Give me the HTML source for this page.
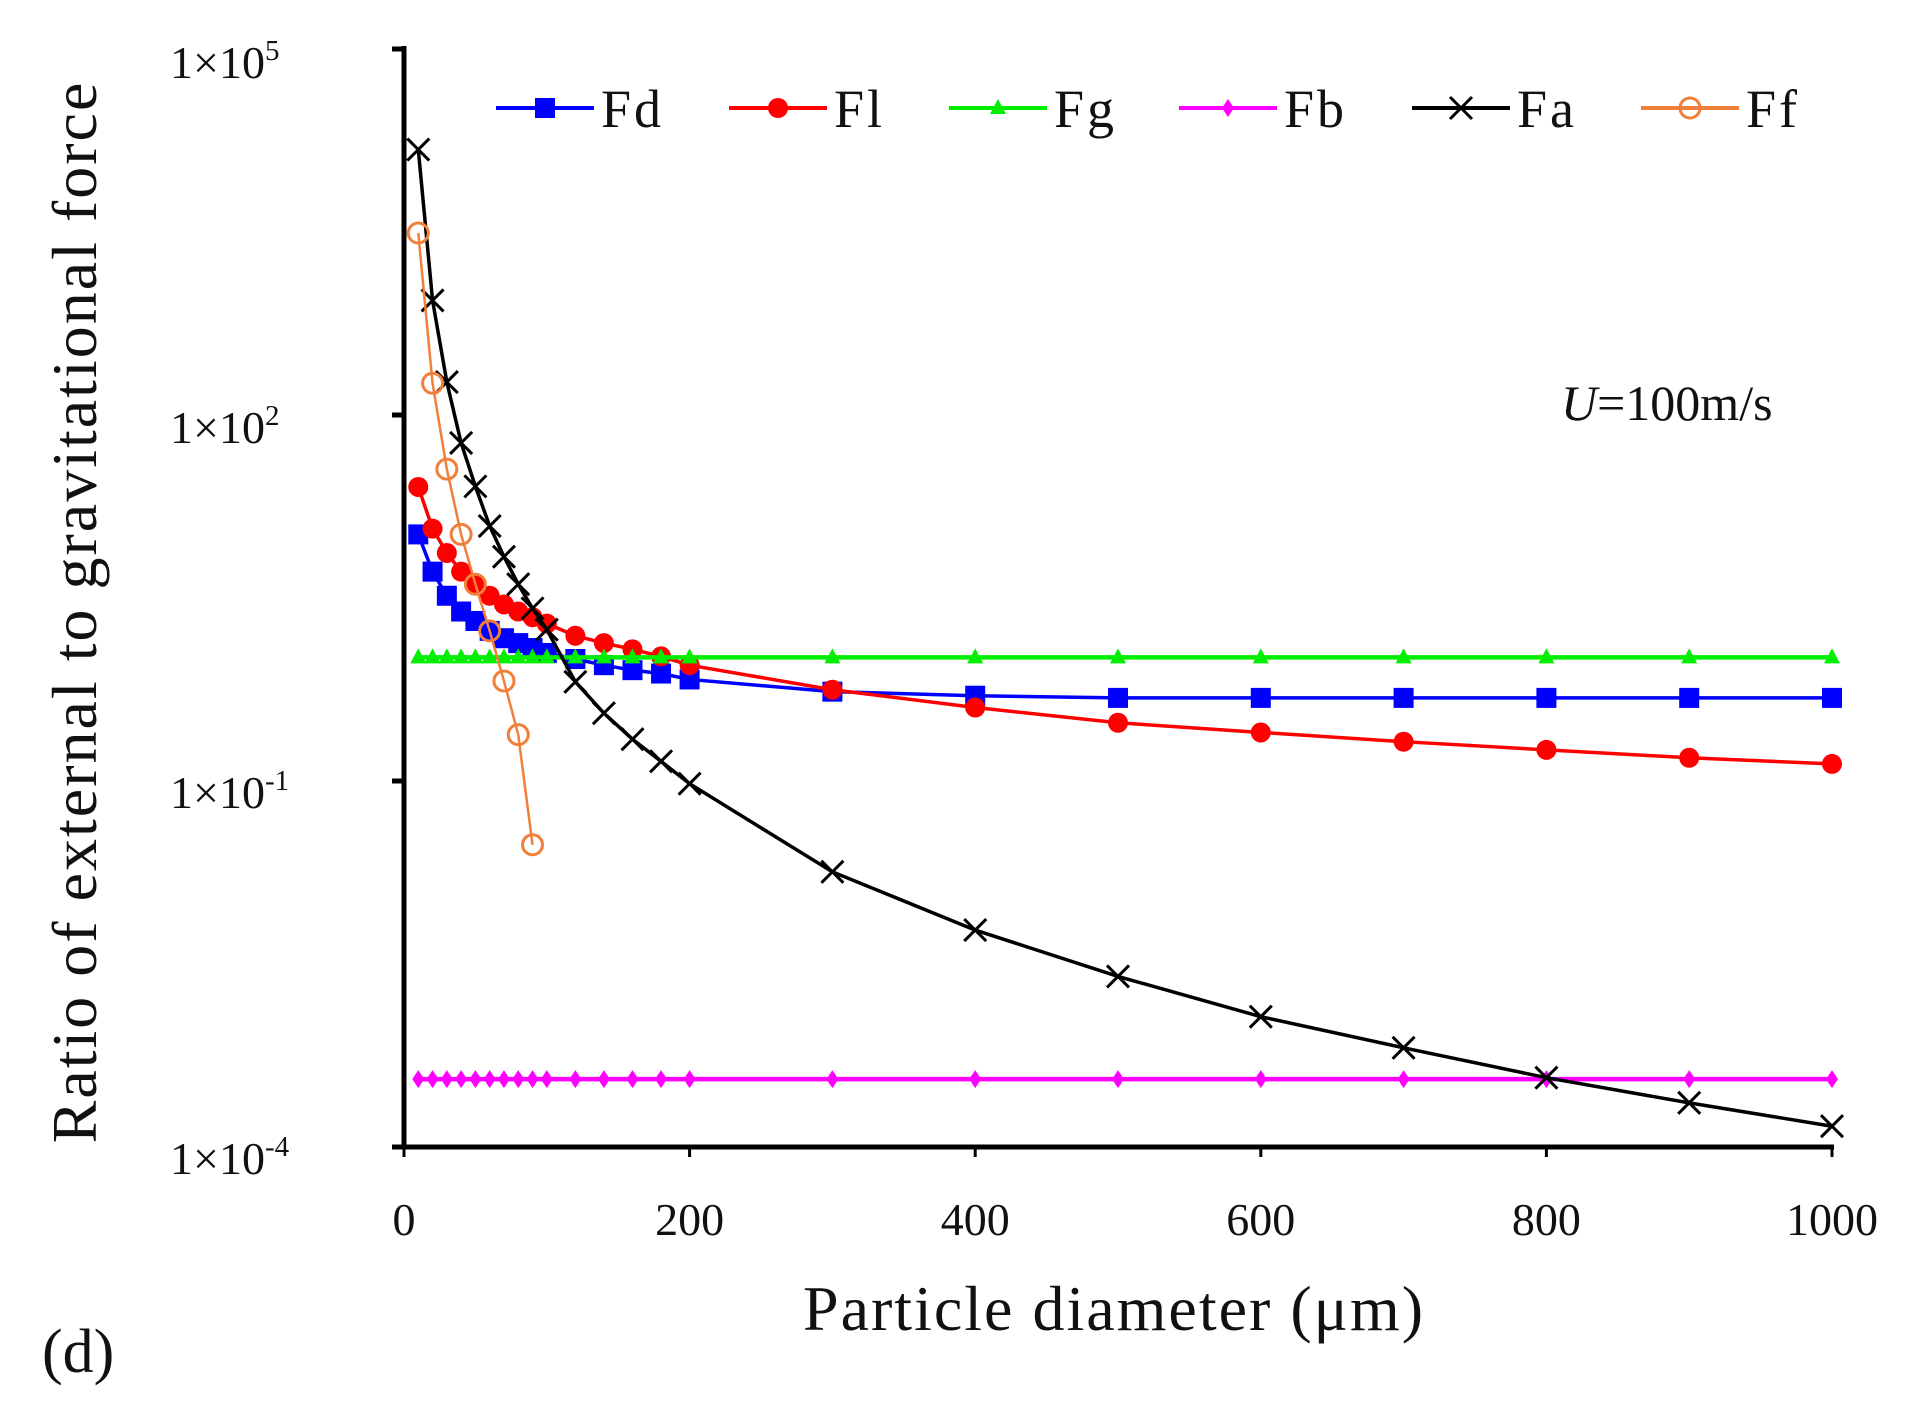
<!DOCTYPE html>
<html><head><meta charset="utf-8"><style>
html,body{margin:0;padding:0;background:#fff;}
svg{display:block;font-family:"Liberation Serif","DejaVu Serif",serif;}
</style></head><body>
<svg id="chart" width="1920" height="1408" viewBox="0 0 1920 1408" xmlns="http://www.w3.org/2000/svg">
<rect width="1920" height="1408" fill="#fff"/>
<g id="plot"></g>
<g font-size="46" fill="#111">
<text x="170" y="78">1×10<tspan font-size="29" dy="-18">5</tspan></text>
<text x="170" y="443">1×10<tspan font-size="29" dy="-18">2</tspan></text>
<text x="170" y="808">1×10<tspan font-size="29" dy="-18">-1</tspan></text>
<text x="170" y="1174">1×10<tspan font-size="29" dy="-18">-4</tspan></text>
</g>
<text transform="translate(96,612) rotate(-90)" text-anchor="middle" font-size="64" fill="#111" letter-spacing="2">Ratio of external to gravitational force</text>
<text x="1114" y="1330" text-anchor="middle" font-size="64" fill="#111" letter-spacing="2">Particle diameter (μm)</text>
<text x="42" y="1372" font-size="62" fill="#111">(d)</text>
<text x="1561" y="420" font-size="50" fill="#111"><tspan font-style="italic">U</tspan>=100m/s</text>
<g id="legend"></g>
</svg>
<script>
const diam = [10,20,30,40,50,60,70,80,90,100,120,140,160,180,200,300,400,500,600,700,800,900,1000];
const ffDiam = [10,20,30,40,50,60,70,80,90];
const fdVals = [10.5,5.2,3.3,2.45,2.05,1.7,1.48,1.35,1.23,1.12,1.0,0.89,0.81,0.76,0.68,0.54,0.5,0.48,0.48,0.48,0.48,0.48,0.48];
const flVals = [25.7,11.7,7.4,5.2,4.1,3.3,2.8,2.45,2.2,1.95,1.55,1.35,1.2,1.05,0.89,0.56,0.4,0.3,0.25,0.21,0.18,0.155,0.138];
const fgVals = [1.03,1.03,1.03,1.03,1.03,1.03,1.03,1.03,1.03,1.03,1.03,1.03,1.03,1.03,1.03,1.03,1.03,1.03,1.03,1.03,1.03,1.03,1.03];
const fbVals = [0.00036,0.00036,0.00036,0.00036,0.00036,0.00036,0.00036,0.00036,0.00036,0.00036,0.00036,0.00036,0.00036,0.00036,0.00036,0.00036,0.00036,0.00036,0.00036,0.00036,0.00036,0.00036,0.00036];
const faVals = [15000,870,186,59,26,12.3,6.9,4.1,2.6,1.74,0.65,0.36,0.22,0.145,0.095,0.018,0.006,0.0025,0.00117,0.00065,0.00037,0.00023,0.000148];
const ffVals = [3100,182,36,10.5,4.1,1.7,0.66,0.24,0.03];
const xTicks = [0,200,400,600,800,1000];
const yTicks = [1e5,1e2,1e-1,1e-4];

const NS = "http://www.w3.org/2000/svg";
const X0 = 404, X1 = 1832, YB = 1147, PER_DEC = 122;
function xs(d){ return X0 + d*(X1-X0)/1000; }
function ys(v){ return YB - (Math.log10(v)+4)*PER_DEC; }
function mk(tag, attrs, parent){ const e=document.createElementNS(NS,tag); for(const k in attrs) e.setAttribute(k,attrs[k]); parent.appendChild(e); return e; }
const plot = document.getElementById('plot');

let ax = mk('line',{x1:X0,y1:46,x2:X0,y2:YB,stroke:'#000','stroke-width':5},plot);


ax = mk('line',{x1:X0-2,y1:YB,x2:X1+2,y2:YB,stroke:'#000','stroke-width':5},plot);


yTicks.forEach(t=>{ const tk=mk('line',{x1:X0-12,y1:ys(t),x2:X0,y2:ys(t),stroke:'#000','stroke-width':5},plot);
  
   });
xTicks.forEach(t=>{ const tk=mk('line',{x1:xs(t),y1:YB,x2:xs(t),y2:YB+10,stroke:'#000','stroke-width':3},plot);
  
  
  const lb=mk('text',{x:xs(t),y:1235,'text-anchor':'middle','font-size':46,fill:'#111'},plot);
  lb.textContent=String(t);
  
   });

function marker(kind,color,x,y,parent){
  let m;
  if(kind==='square') m=mk('rect',{x:x-10,y:y-10,width:20,height:20,fill:color},parent);
  else if(kind==='circle') m=mk('circle',{cx:x,cy:y,r:10,fill:color},parent);
  else if(kind==='triangle') m=mk('polygon',{points:`${x},${y-9} ${x+8},${y+6} ${x-8},${y+6}`,fill:color},parent);
  else if(kind==='diamond') m=mk('polygon',{points:`${x},${y-9} ${x+6},${y} ${x},${y+9} ${x-6},${y}`,fill:color},parent);
  else if(kind==='x') m=mk('path',{d:`M${x-11},${y-11}L${x+11},${y+11}M${x-11},${y+11}L${x+11},${y-11}`,stroke:color,'stroke-width':3,fill:'none'},parent);
  else m=mk('circle',{cx:x,cy:y,r:10,fill:'#fff','fill-opacity':0,stroke:color,'stroke-width':3},parent);
  return m;
}
const series = [
  {name:'Fd',xsArr:diam,vals:fdVals,color:'#0000ff',kind:'square',lw:3.5},
  {name:'Fl',xsArr:diam,vals:flVals,color:'#ff0000',kind:'circle',lw:3.5},
  {name:'Fg',xsArr:diam,vals:fgVals,color:'#00ee00',kind:'triangle',lw:4.5},
  {name:'Fb',xsArr:diam,vals:fbVals,color:'#ff00ff',kind:'diamond',lw:4.5},
  {name:'Fa',xsArr:diam,vals:faVals,color:'#000000',kind:'x',lw:3.5},
  {name:'Ff',xsArr:ffDiam,vals:ffVals,color:'#f07f3a',kind:'open',lw:2.5}
];
series.forEach(s=>{
  const g=mk('g',{},plot);
  
  
  const pts=s.vals.map((v,i)=>xs(s.xsArr[i])+','+ys(v)).join(' ');
  const pl=mk('polyline',{points:pts,fill:'none',stroke:s.color,'stroke-width':s.lw},g);
  
  
  s.vals.forEach((v,i)=>{ const m=marker(s.kind,s.color,xs(s.xsArr[i]),ys(v),g);
    
     });
});
const leg=document.getElementById('legend');
const legX=[496,729,949,1179,1412,1641];
series.forEach((s,i)=>{
  const g=mk('g',{},leg);
  
  
  const x=legX[i], y=108;
  mk('line',{x1:x,y1:y,x2:x+98,y2:y,stroke:s.color,'stroke-width':4},g);
  marker(s.kind,s.color,x+49,y,g);
  const t=mk('text',{x:x+105,y:y+19,'font-size':54,fill:'#111','letter-spacing':3},g);
  t.textContent=s.name;
});
</script>
</body></html>
